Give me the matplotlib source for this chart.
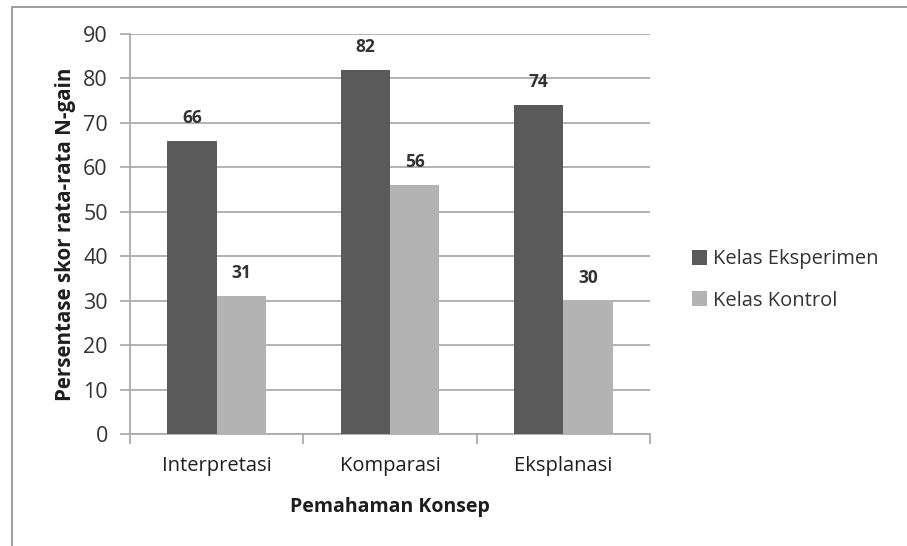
import matplotlib.pyplot as plt
import numpy as np
from matplotlib.patches import Rectangle

categories = ["Interpretasi", "Komparasi", "Eksplanasi"]
eksperimen = [66, 82, 74]
kontrol = [31, 56, 30]
series_names = ["Kelas Eksperimen", "Kelas Kontrol"]

DARK = "#5a5a5a"
LIGHT = "#b3b3b3"
GRID = "#a6a6a6"
TEXT = "#1e1e1e"

plt.rcParams["font.family"] = ["Open Sans", "DejaVu Sans"]

fig = plt.figure(figsize=(9.07, 5.46), dpi=100)
fig.patches.append(Rectangle((12 / 907, -0.05), 1.0, 1 - 7 / 546 + 0.05,
                             transform=fig.transFigure, fill=False,
                             edgecolor="#8c8c8c", linewidth=1.2))
ax = fig.add_axes([130 / 907, 1 - 434 / 546, 520 / 907, 400 / 546])

x = np.arange(len(categories))
w = 0.285
b1 = ax.bar(x - w / 2, eksperimen, w, color=DARK, label=series_names[0], zorder=3)
b2 = ax.bar(x + w / 2, kontrol, w, color=LIGHT, label=series_names[1], zorder=3)

for bars in (b1, b2):
    for rect in bars:
        ax.annotate(f"{int(rect.get_height())}",
                    (rect.get_x() + rect.get_width() / 2, rect.get_height()),
                    xytext=(0, 10), textcoords="offset points", ha="center", va="bottom",
                    fontsize=12.5, fontweight="bold", color="#333333")

ax.set_xlim(-0.5, 2.5)
ax.set_ylim(0, 90)
ax.set_yticks(range(0, 91, 10))
ax.yaxis.grid(True, color=GRID, linewidth=1.2, zorder=0)
ax.set_axisbelow(True)
for s in ("top", "right"):
    ax.spines[s].set_visible(False)
for s in ("left", "bottom"):
    ax.spines[s].set_color(GRID)
    ax.spines[s].set_linewidth(1.2)

ax.set_xticks([-0.5, 0.5, 1.5, 2.5])
ax.set_xticklabels([])
ax.set_xticks(x, minor=True)
ax.set_xticklabels(categories, minor=True, fontsize=14.5, color=TEXT)
ax.tick_params(axis="x", which="major", length=7, color=GRID, width=1.2)
ax.tick_params(axis="x", which="minor", length=0, pad=16)
ax.tick_params(axis="y", length=7, color=GRID, width=1.2, labelsize=15.5,
               labelcolor="#333333", pad=9)

ax.set_xlabel("Pemahaman Konsep", fontsize=14, fontweight="bold", labelpad=15,
              color=TEXT)
ax.set_ylabel("Persentase skor rata-rata N-gain", fontsize=14.8, fontweight="bold",
              labelpad=5, color=TEXT)

ax.legend(loc="center left", bbox_to_anchor=(1.045, 0.385), frameon=False,
          fontsize=14.5, handlelength=0.75, handleheight=0.75, handletextpad=0.3,
          labelspacing=1.05, labelcolor="#333333")

fig.savefig("out.png", dpi=100)
